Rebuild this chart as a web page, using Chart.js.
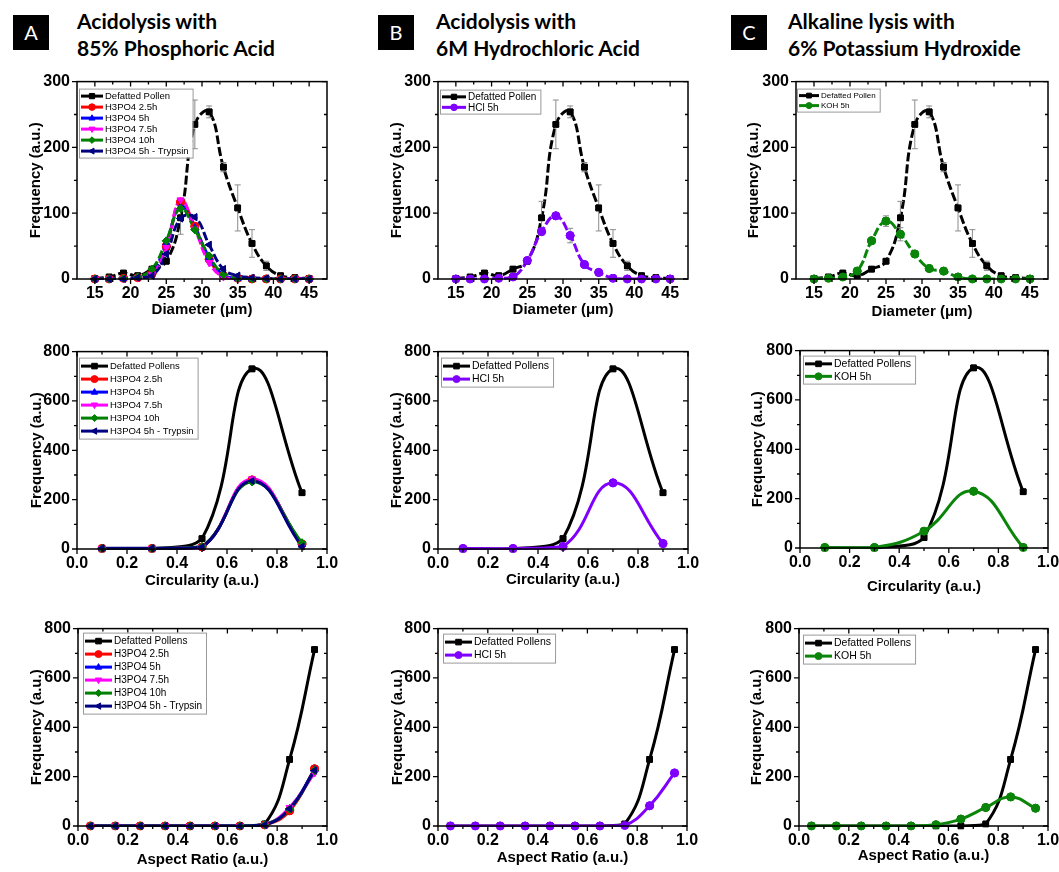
<!DOCTYPE html>
<html>
<head>
<meta charset="utf-8">
<script src="https://cdn.jsdelivr.net/npm/chart.js@4/dist/chart.umd.min.js"></script>
<style>
html, body { margin: 0; padding: 0; background: #fff; overflow: hidden; }
#fig { position: relative; width: 1059px; height: 872px; overflow: hidden; background: #fff; }
.tag { position: absolute; top: 15px; width: 36px; height: 35px; background: #000; color: #fff;
       font: 20px Lato, sans-serif; line-height: 35px; text-align: center; }
.head { position: absolute; top: 7px; font: bold 21px Lato, sans-serif; line-height: 27px; color: #000; white-space: nowrap; }
canvas { position: absolute; }
</style>
</head>
<body>
<div id="fig">
  <div class="tag" style="left:13px">A</div>
  <div class="head" style="left:77px">Acidolysis with<br>85% Phosphoric Acid</div>
  <div class="tag" style="left:378px">B</div>
  <div class="head" style="left:436px">Acidolysis with<br>6M Hydrochloric Acid</div>
  <div class="tag" style="left:731px">C</div>
  <div class="head" style="left:788px">Alkaline lysis with<br>6% Potassium Hydroxide</div>
</div>
<script>
// ---- data ----
const diamX = [15, 17, 19, 21, 23, 25, 27, 29, 31, 33, 35, 37, 39, 41, 43, 45];
const defDiam    = [1, 3, 9, 5, 15, 27, 93, 235, 254, 170, 108, 54, 20, 5, 2, 1];
const defDiamErr = [0, 1, 2, 1, 2, 3, 25, 37, 9, 7, 35, 21, 7, 2, 1, 0];
const h3Diam25 = [0, 0, 1, 2, 8, 50, 117, 80, 30, 5, 1, 0, 0, 0, 0, 0];
const h3Diam5  = [0, 0, 1, 3, 10, 55, 110, 78, 33, 6, 1, 0, 0, 0, 0, 0];
const h3Diam75 = [0, 0, 0, 2, 7, 48, 120, 76, 25, 3, 0, 0, 0, 0, 0, 0];
const h3Diam10 = [0, 0, 1, 3, 15, 58, 107, 75, 35, 7, 1, 0, 0, 0, 0, 0];
const h3DiamT  = [0, 0, 0, 2, 5, 38, 92, 94, 52, 15, 5, 2, 1, 0, 0, 0];
const hclDiam    = [0, 0, 0, 1, 3, 28, 72, 96, 66, 22, 10, 1, 0, 0, 0, 0];
const hclDiamErr = [0, 0, 0, 0, 1, 3, 5, 4, 11, 3, 2, 0, 0, 0, 0, 0];
const kohDiam    = [0, 1, 3, 12, 58, 88, 68, 38, 16, 12, 3, 0, 0, 0, 0, 0];
const kohDiamErr = [0, 0, 1, 2, 4, 8, 10, 4, 2, 1, 1, 0, 0, 0, 0, 0];

const circX = [0.1, 0.3, 0.5, 0.7, 0.9];
const defCirc  = [0, 0, 42, 730, 228];
const h3Circ25 = [2, 2, 8, 280, 20];
const h3Circ5  = [2, 2, 8, 278, 18];
const h3Circ75 = [2, 2, 7, 284, 15];
const h3Circ10 = [2, 2, 10, 272, 25];
const h3CircT  = [3, 3, 8, 276, 10];
const hclCirc  = [2, 2, 10, 268, 22];
const kohCirc  = [2, 2, 68, 230, 2];

const arX = [0.05, 0.15, 0.25, 0.35, 0.45, 0.55, 0.65, 0.75, 0.85, 0.95];
const defAR  = [0, 0, 0, 0, 0, 0, 0, 8, 270, 715];
const h3AR25 = [0, 0, 0, 0, 0, 0, 0, 4, 62, 232];
const h3AR5  = [0, 0, 0, 0, 0, 0, 0, 5, 70, 228];
const h3AR75 = [0, 0, 0, 0, 0, 0, 0, 4, 75, 215];
const h3AR10 = [0, 0, 0, 0, 0, 0, 0, 5, 68, 225];
const h3ART  = [0, 0, 0, 0, 0, 0, 0, 4, 70, 225];
const hclAR  = [0, 0, 0, 0, 0, 0, 0, 2, 82, 215];
const kohAR  = [0, 0, 0, 0, 0, 5, 28, 75, 118, 72];

// tick labels
const diamTicks = [15, 20, 25, 30, 35, 40, 45];
const unitTicks = [0, 0.2, 0.4, 0.6, 0.8, 1.0];
const freqTicks300 = [0, 100, 200, 300];
const freqTicks800 = [0, 200, 400, 600, 800];

const h3Labels = ['H3PO4 2.5h', 'H3PO4 5h', 'H3PO4 7.5h', 'H3PO4 10h', 'H3PO4 5h - Trypsin'];
const defLabel1 = 'Defatted Pollen';
const defLabel2 = 'Defatted Pollens';
const hclLabel = 'HCl 5h';
const kohLabel = 'KOH 5h';
const xTitles = ['Diameter (μm)', 'Circularity (a.u.)', 'Aspect Ratio (a.u.)'];
const yTitle = 'Frequency (a.u.)';

// ---- styles ----
const STY = {
  def: ['#000000', 'rect', 0],
  p25: ['#ff0000', 'circle', 0],
  p5:  ['#0000ff', 'triangle', 0],
  p75: ['#ff00ff', 'triangle', 180],
  p10: ['#008000', 'rectRot', 0],
  pT:  ['#000080', 'triangle', 270],
  hcl: ['#8000ff', 'circle', 0],
  koh: ['#0a850a', 'circle', 0]
};
const FONT = '"Liberation Sans", Arial, sans-serif';
Chart.defaults.font.family = FONT;

function ds(key, label, xs, ys, errs) {
  const s = STY[key];
  return {
    label: label,
    data: xs.map((v, i) => ({ x: v, y: ys[i] })),
    borderColor: s[0], backgroundColor: s[0],
    pointStyle: s[1], pointRotation: s[2],
    errors: errs
  };
}

function marker(ctx, style, rot, x, y, r, color) {
  ctx.save();
  ctx.translate(x, y);
  ctx.rotate(rot * Math.PI / 180);
  ctx.fillStyle = color; ctx.strokeStyle = color; ctx.lineWidth = 1;
  ctx.beginPath();
  if (style === 'rect') { const s = r * 0.8; ctx.rect(-s, -s, 2 * s, 2 * s); }
  else if (style === 'rectRot') { ctx.moveTo(0, -r); ctx.lineTo(r, 0); ctx.lineTo(0, r); ctx.lineTo(-r, 0); ctx.closePath(); }
  else if (style === 'triangle') { ctx.moveTo(0, -r); ctx.lineTo(r * 0.9, r * 0.6); ctx.lineTo(-r * 0.9, r * 0.6); ctx.closePath(); }
  else ctx.arc(0, 0, r, 0, Math.PI * 2);
  ctx.fill(); ctx.stroke();
  ctx.restore();
}

function mids(vals, min, max) {
  const out = [];
  if (vals.length < 2) return out;
  const step = vals[1] - vals[0];
  for (let v = vals[0] - step / 2; v < max + 1e-9; v += step) {
    if (v > min + 1e-9 && v < max - 1e-9) out.push(v);
  }
  return out;
}

const decor = {
  id: 'decor',
  afterDatasetsDraw(chart) {
    const { ctx, scales: { x, y } } = chart;
    ctx.save();
    // error bars
    ctx.strokeStyle = '#8c8c8c'; ctx.lineWidth = 1; ctx.setLineDash([]);
    chart.data.datasets.forEach(d => {
      if (!d.errors) return;
      d.data.forEach((pt, j) => {
        const e = d.errors[j];
        if (!e || e < 3) return;
        const px = x.getPixelForValue(pt.x);
        const y1 = y.getPixelForValue(pt.y + e), y2 = y.getPixelForValue(pt.y - e);
        ctx.beginPath();
        ctx.moveTo(px, y1); ctx.lineTo(px, y2);
        ctx.moveTo(px - 3, y1); ctx.lineTo(px + 3, y1);
        ctx.moveTo(px - 3, y2); ctx.lineTo(px + 3, y2);
        ctx.stroke();
      });
    });
    // markers again, without the area clip
    const metas = chart.getSortedVisibleDatasetMetas();
    for (let i = metas.length - 1; i >= 0; i--) metas[i].data.forEach(p => p.draw(ctx));
    ctx.restore();
  },
  afterDraw(chart, args, o) {
    const { ctx, chartArea: a, scales: { x, y } } = chart;
    ctx.save();
    // frame
    ctx.strokeStyle = '#000'; ctx.lineWidth = 1.5; ctx.setLineDash([]);
    ctx.strokeRect(a.left, a.top, a.right - a.left, a.bottom - a.top);
    const xt = x.ticks.map(t => t.value), yt = y.ticks.map(t => t.value);
    const xm = mids(xt, x.min, x.max), ym = mids(yt, y.min, y.max);
    ctx.lineWidth = 1.3;
    ctx.beginPath();
    const vx = (v, len) => { const p = x.getPixelForValue(v); ctx.moveTo(p, a.bottom); ctx.lineTo(p, a.bottom + len); ctx.moveTo(p, a.top); ctx.lineTo(p, a.top + len); };
    const vy = (v, len) => { const p = y.getPixelForValue(v); ctx.moveTo(a.left, p); ctx.lineTo(a.left - len, p); ctx.moveTo(a.right, p); ctx.lineTo(a.right - len, p); };
    xt.forEach(v => vx(v, 5)); xm.forEach(v => vx(v, 3));
    yt.forEach(v => vy(v, 5)); ym.forEach(v => vy(v, 3));
    ctx.stroke();
    // legend inside the plot
    const sets = chart.data.datasets;
    ctx.font = o.size + 'px ' + FONT;
    let tw = 0;
    sets.forEach(d => { tw = Math.max(tw, ctx.measureText(d.label).width); });
    const lx = a.left + o.dx, ly = a.top + o.dy;
    const w = o.sample + 5 + tw + 3, h = sets.length * o.row + 3;
    ctx.fillStyle = '#fff'; ctx.fillRect(lx, ly, w, h);
    ctx.strokeStyle = '#9a9a9a'; ctx.lineWidth = 1; ctx.strokeRect(lx + 0.5, ly + 0.5, w, h);
    sets.forEach((d, i) => {
      const cy = ly + 2 + o.row * (i + 0.5);
      ctx.strokeStyle = d.borderColor; ctx.lineWidth = 3;
      ctx.beginPath(); ctx.moveTo(lx + 2, cy); ctx.lineTo(lx + 2 + o.sample, cy); ctx.stroke();
      marker(ctx, d.pointStyle, d.pointRotation, lx + 2 + o.sample / 2, cy, o.mr, d.borderColor);
      ctx.fillStyle = '#000'; ctx.textBaseline = 'middle'; ctx.textAlign = 'left';
      ctx.fillText(d.label, lx + o.sample + 4, cy + 0.5);
    });
    ctx.restore();
  }
};

function h3Sets(xs, def, defLabel, a, b, c, d, e, defErr) {
  return [ds('def', defLabel, xs, def, defErr), ds('p25', h3Labels[0], xs, a), ds('p5', h3Labels[1], xs, b),
          ds('p75', h3Labels[2], xs, c), ds('p10', h3Labels[3], xs, d), ds('pT', h3Labels[4], xs, e)];
}

// ---- layout: plot box [left, top, right, bottom], y-title x, x-title y ----
const panels = [
  { box: [77, 79, 327, 279], yx: 36, xy: 310, row: 0, leg: { dx: 2, dy: 7, size: 9.5, row: 11, sample: 22, mr: 3.3 },
    sets: h3Sets(diamX, defDiam, defLabel1, h3Diam25, h3Diam5, h3Diam75, h3Diam10, h3DiamT, defDiamErr) },
  { box: [438, 79, 688, 279], yx: 397, xy: 310, row: 0, leg: { dx: 2, dy: 8, size: 10, row: 10.5, sample: 24, mr: 3.3 },
    sets: [ds('def', defLabel1, diamX, defDiam, defDiamErr), ds('hcl', hclLabel, diamX, hclDiam, hclDiamErr)] },
  { box: [796, 79, 1048, 279], yx: 754, xy: 312, row: 0, leg: { dx: 1, dy: 7, size: 8, row: 10, sample: 20, mr: 3 },
    sets: [ds('def', defLabel1, diamX, defDiam, defDiamErr), ds('koh', kohLabel, diamX, kohDiam, kohDiamErr)] },
  { box: [77, 349, 327, 549], yx: 37, xy: 581, row: 1, leg: { dx: 2, dy: 6, size: 9.5, row: 13, sample: 27, mr: 3.5 },
    sets: h3Sets(circX, defCirc, defLabel2, h3Circ25, h3Circ5, h3Circ75, h3Circ10, h3CircT) },
  { box: [438, 349, 688, 549], yx: 397, xy: 580, row: 1, leg: { dx: 3, dy: 6, size: 10.5, row: 13, sample: 27, mr: 3.5 },
    sets: [ds('def', defLabel2, circX, defCirc), ds('hcl', hclLabel, circX, hclCirc)] },
  { box: [800, 348, 1048, 548], yx: 758, xy: 587, row: 1, leg: { dx: 3, dy: 5, size: 10.5, row: 12.5, sample: 27, mr: 3.5 },
    sets: [ds('def', defLabel2, circX, defCirc), ds('koh', kohLabel, circX, kohCirc)] },
  { box: [78, 626, 327, 826], yx: 37, xy: 860, row: 2, leg: { dx: 5, dy: 4, size: 10, row: 13, sample: 27, mr: 3.5 },
    sets: h3Sets(arX, defAR, defLabel2, h3AR25, h3AR5, h3AR75, h3AR10, h3ART) },
  { box: [438, 626, 687, 826], yx: 398, xy: 858, row: 2, leg: { dx: 5, dy: 5, size: 10.5, row: 13, sample: 27, mr: 3.5 },
    sets: [ds('def', defLabel2, arX, defAR), ds('hcl', hclLabel, arX, hclAR)] },
  { box: [799, 626, 1048, 826], yx: 757, xy: 856, row: 2, leg: { dx: 4, dy: 6, size: 10.5, row: 13, sample: 27, mr: 3.5 },
    sets: [ds('def', defLabel2, arX, defAR), ds('koh', kohLabel, arX, kohAR)] }
];

const fig = document.getElementById('fig');
const PADT = 14, PADR = 18;

panels.forEach(p => {
  const [l, t, r, b] = p.box;
  const cx = Math.round(p.yx - 9), cy = t - PADT;
  const cw = r + PADR - cx, ch = p.xy + 9 - cy;
  const cv = document.createElement('canvas');
  cv.width = cw; cv.height = ch;
  cv.style.left = cx + 'px'; cv.style.top = cy + 'px';
  cv.style.width = cw + 'px'; cv.style.height = ch + 'px';
  fig.appendChild(cv);

  const diam = p.row === 0;
  const xTicks = diam ? diamTicks : unitTicks;
  const yTicks = diam ? freqTicks300 : freqTicks800;
  const n = p.sets.length;
  p.sets.forEach((d, i) => {
    d.borderWidth = 3;
    d.pointRadius = 4;
    d.pointBorderWidth = 1;
    d.tension = 0.45;
    d.borderDash = diam ? [9, 3] : [];
    d.clip = 1;
    d.order = n - i;
  });

  new Chart(cv, {
    type: 'line',
    data: { datasets: p.sets },
    options: {
      responsive: false,
      devicePixelRatio: 1,
      animation: false,
      events: [],
      layout: { padding: { left: 0, top: PADT, right: PADR, bottom: 0 } },
      scales: {
        x: {
          type: 'linear',
          min: diam ? 12.5 : 0, max: diam ? 47.5 : 1,
          grid: { display: false, drawTicks: false },
          border: { display: false },
          afterBuildTicks: s => { s.ticks = xTicks.map(v => ({ value: v })); },
          ticks: {
            autoSkip: false, maxRotation: 0,
            padding: 5, color: '#000', font: { size: 16, weight: 'bold' },
            callback: v => diam ? String(v) : v.toFixed(1)
          },
          title: { display: true, text: xTitles[p.row], color: '#000', padding: 0, font: { size: 15, weight: 'bold' } },
          afterFit: s => { s.height = p.xy + 9 - b; }
        },
        y: {
          min: 0, max: diam ? 300 : 800,
          grid: { display: false, drawTicks: false },
          border: { display: false },
          afterBuildTicks: s => { s.ticks = yTicks.map(v => ({ value: v })); },
          ticks: { padding: 7, color: '#000', font: { size: 16, weight: 'bold' } },
          title: { display: true, text: yTitle, color: '#000', padding: 0, font: { size: 15, weight: 'bold' } },
          afterFit: s => { s.width = l - cx; }
        }
      },
      plugins: {
        legend: { display: false },
        tooltip: { enabled: false },
        decor: p.leg
      }
    },
    plugins: [decor]
  });
});
</script>
</body>
</html>
